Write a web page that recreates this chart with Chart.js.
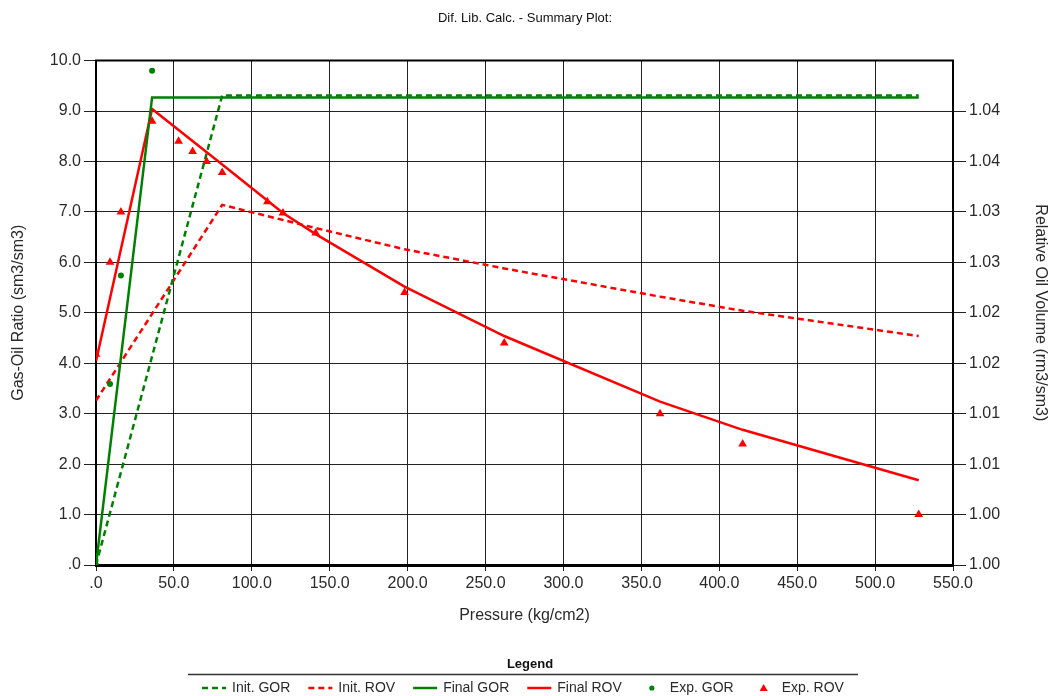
<!DOCTYPE html>
<html>
<head>
<meta charset="utf-8">
<title>Dif. Lib. Calc. - Summary Plot</title>
<script src="https://cdn.jsdelivr.net/npm/chart.js@4.4.1/dist/chart.umd.min.js"></script>
<style>
html, body { margin: 0; padding: 0; background: #fff; }
#wrap { width: 1050px; height: 696px; position: relative; }
</style>
</head>
<body>
<div id="wrap"><canvas id="plot"></canvas></div>
<script>
// Valeurs (pression en kg/cm2)
const initGorPressure = [0, 81, 528];
const initGor = [0, 9.31, 9.31];
const finalGorPressure = [0, 36, 528];
const finalGor = [0, 9.27, 9.27];

const rovPressure = [0, 36, 81, 120, 141, 198, 262, 362, 415, 528];
const initRov = [1.0163, 1.0249, 1.0357, 1.0342, 1.0334, 1.0313, 1.0294, 1.0266, 1.0252, 1.0227];
const finalRov = [1.0202, 1.0452, 1.0397, 1.0349, 1.0328, 1.0276, 1.0227, 1.0162, 1.0134, 1.0084];

const expGorPressure = [0, 9, 16, 36];
const expGor = [0, 3.59, 5.74, 9.80];
const expRovPressure = [0, 9, 16, 36, 53, 62, 71, 81, 110, 120, 141, 198, 262, 362, 415, 528];
const expRov = [1.0209, 1.0300, 1.0350, 1.0440, 1.0420, 1.0410, 1.0400, 1.0389, 1.0360, 1.0349, 1.0329, 1.0270, 1.0220, 1.0150, 1.0120, 1.0050];

// Libellés des graduations
const xTickLabels = ['.0', '50.0', '100.0', '150.0', '200.0', '250.0', '300.0', '350.0', '400.0', '450.0', '500.0', '550.0'];
const gorTickLabels = ['.0', '1.0', '2.0', '3.0', '4.0', '5.0', '6.0', '7.0', '8.0', '9.0', '10.0'];
const rovTickLabels = ['1.00', '1.00', '1.01', '1.01', '1.02', '1.02', '1.03', '1.03', '1.04', '1.04', ''];

const FONT = "'Liberation Sans', Arial, sans-serif";
const GREEN = '#008000';
const RED = '#ff0000';
const TEXT = '#2a2a2a';

Chart.defaults.font.family = FONT;

// Fonction pour assembler les points {x, y}
function points(xs, ys) {
    return xs.map((x, i) => ({ x: x, y: ys[i] }));
}

// Cadre du haut (les autres côtés sont les bordures des axes)
const framePlugin = {
    id: 'cadre',
    beforeDatasetsDraw(chart) {
        const a = chart.chartArea;
        const ctx = chart.ctx;
        ctx.save();
        ctx.strokeStyle = '#000';
        ctx.lineWidth = 2;
        ctx.beginPath();
        ctx.moveTo(a.left - 1, a.top);
        ctx.lineTo(a.right + 1, a.top);
        ctx.stroke();
        ctx.restore();
    }
};

// Légende en bas, dessinée à partir des jeux de données
const legendPlugin = {
    id: 'legendeBas',
    afterDraw(chart) {
        const ctx = chart.ctx;
        ctx.save();
        ctx.fillStyle = '#111';
        ctx.font = 'bold 13px ' + FONT;
        ctx.textAlign = 'center';
        ctx.textBaseline = 'middle';
        ctx.fillText('Legend', 530, 664);

        ctx.strokeStyle = '#333';
        ctx.lineWidth = 1.5;
        ctx.beginPath();
        ctx.moveTo(188, 674.5);
        ctx.lineTo(858, 674.5);
        ctx.stroke();

        ctx.font = '14px ' + FONT;
        ctx.textAlign = 'left';
        let x = 202;
        const y = 688;
        chart.data.datasets.forEach(ds => {
            ctx.save();
            if (ds.showLine) {
                ctx.strokeStyle = ds.borderColor;
                ctx.lineWidth = ds.borderWidth;
                ctx.setLineDash(ds.borderDash || []);
                ctx.beginPath();
                ctx.moveTo(x, y);
                ctx.lineTo(x + 24, y);
                ctx.stroke();
            } else {
                ctx.fillStyle = ds.backgroundColor;
                ctx.beginPath();
                if (ds.pointStyle === 'triangle') {
                    ctx.moveTo(x + 12, y - 4);
                    ctx.lineTo(x + 16, y + 3);
                    ctx.lineTo(x + 8, y + 3);
                    ctx.closePath();
                } else {
                    ctx.arc(x + 12, y, 2.6, 0, Math.PI * 2);
                }
                ctx.fill();
            }
            ctx.restore();
            ctx.fillStyle = TEXT;
            ctx.fillText(ds.label, x + 30, y);
            x += 30 + ctx.measureText(ds.label).width + 18;
        });
        ctx.restore();
    }
};

new Chart(document.getElementById('plot'), {
    type: 'scatter',
    data: {
        datasets: [
            {
                label: 'Init. GOR',
                data: points(initGorPressure, initGor),
                yAxisID: 'y',
                showLine: true,
                borderColor: GREEN,
                backgroundColor: GREEN,
                borderWidth: 2.5,
                borderDash: [6, 4],
                pointRadius: 0,
                order: 2
            },
            {
                label: 'Init. ROV',
                data: points(rovPressure, initRov),
                yAxisID: 'y2',
                showLine: true,
                borderColor: RED,
                backgroundColor: RED,
                borderWidth: 2.5,
                borderDash: [6, 4],
                pointRadius: 0,
                order: 2
            },
            {
                label: 'Final GOR',
                data: points(finalGorPressure, finalGor),
                yAxisID: 'y',
                showLine: true,
                borderColor: GREEN,
                backgroundColor: GREEN,
                borderWidth: 2.5,
                pointRadius: 0,
                order: 1
            },
            {
                label: 'Final ROV',
                data: points(rovPressure, finalRov),
                yAxisID: 'y2',
                showLine: true,
                borderColor: RED,
                backgroundColor: RED,
                borderWidth: 2.5,
                pointRadius: 0,
                order: 1
            },
            {
                label: 'Exp. GOR',
                data: points(expGorPressure, expGor),
                yAxisID: 'y',
                showLine: false,
                pointStyle: 'circle',
                pointRadius: 3,
                pointBorderWidth: 0,
                backgroundColor: GREEN,
                borderColor: GREEN,
                order: 0
            },
            {
                label: 'Exp. ROV',
                data: points(expRovPressure, expRov),
                yAxisID: 'y2',
                showLine: false,
                pointStyle: 'triangle',
                pointRadius: 5,
                pointBorderWidth: 0,
                backgroundColor: RED,
                borderColor: RED,
                order: 0
            }
        ]
    },
    options: {
        responsive: true,
        maintainAspectRatio: false,
        animation: false,
        events: [],
        layout: { padding: { left: 0, right: 0, top: 0, bottom: 67 } },
        plugins: {
            legend: { display: false },
            tooltip: { enabled: false },
            title: {
                display: true,
                text: 'Dif. Lib. Calc. - Summary Plot:',
                color: '#111',
                font: { size: 13, weight: 'normal' },
                padding: { top: 11, bottom: 34 }
            }
        },
        scales: {
            x: {
                type: 'linear',
                position: 'bottom',
                min: 0,
                max: 550,
                afterFit: scale => { scale.height = 64; },
                ticks: {
                    stepSize: 50,
                    autoSkip: false,
                    maxRotation: 0,
                    padding: 3,
                    color: TEXT,
                    font: { size: 16 },
                    callback: (v, i) => xTickLabels[i]
                },
                grid: { color: '#222', lineWidth: 1, tickLength: 6, tickColor: '#222' },
                border: { color: '#000', width: 3 },
                title: {
                    display: true,
                    text: 'Pressure (kg/cm2)',
                    color: TEXT,
                    font: { size: 16 },
                    padding: { top: 4, bottom: 4 }
                }
            },
            y: {
                type: 'linear',
                position: 'left',
                min: 0,
                max: 10,
                afterFit: scale => { scale.width = 96; },
                ticks: {
                    stepSize: 1,
                    autoSkip: false,
                    padding: 3,
                    color: TEXT,
                    font: { size: 16 },
                    callback: (v, i) => gorTickLabels[i]
                },
                grid: { color: '#222', lineWidth: 1, tickLength: 12, tickColor: '#222' },
                border: { color: '#000', width: 2 },
                title: {
                    display: true,
                    text: 'Gas-Oil Ratio (sm3/sm3)',
                    color: TEXT,
                    font: { size: 16 },
                    padding: { top: 9, bottom: 0 }
                }
            },
            y2: {
                type: 'linear',
                position: 'right',
                min: 1.0,
                max: 1.05,
                afterFit: scale => { scale.width = 97; },
                ticks: {
                    stepSize: 0.005,
                    autoSkip: false,
                    padding: 3,
                    color: TEXT,
                    font: { size: 16 },
                    callback: (v, i) => rovTickLabels[i]
                },
                grid: {
                    drawOnChartArea: false,
                    tickLength: 13,
                    color: '#222',
                    // pas de graduation en haut à droite
                    tickColor: c => (c.index === rovTickLabels.length - 1 ? 'rgba(0,0,0,0)' : '#222')
                },
                border: { color: '#000', width: 2 },
                title: {
                    display: true,
                    text: 'Relative Oil Volume (rm3/sm3)',
                    color: TEXT,
                    font: { size: 16 },
                    padding: { top: 0, bottom: 0 }
                }
            }
        }
    },
    plugins: [framePlugin, legendPlugin]
});
</script>
</body>
</html>
